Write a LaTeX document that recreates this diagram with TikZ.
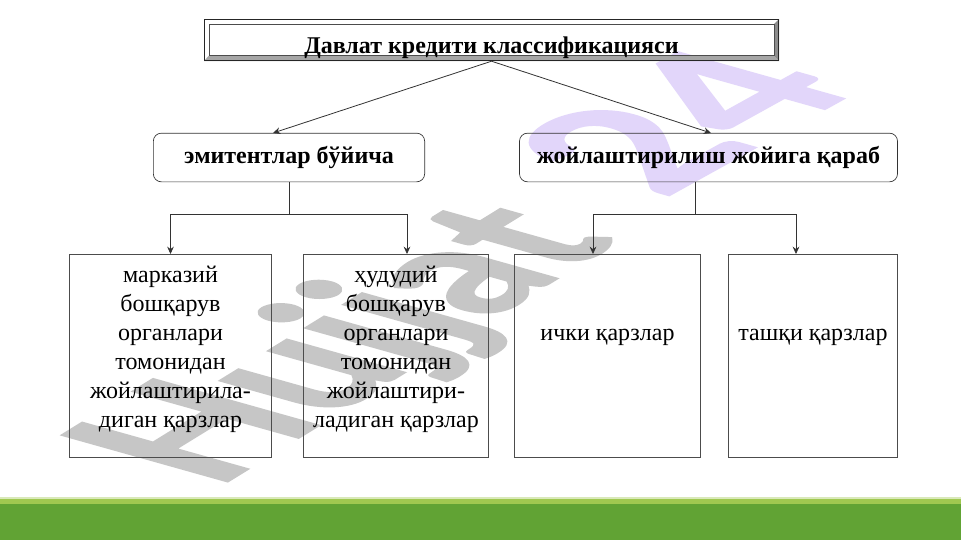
\documentclass[tikz,border=0pt]{standalone}
\usepackage{fontspec}
\setmainfont{Liberation Serif}
\newfontfamily\wmfont[BoldFeatures={FakeBold=1.5}]{Lato}
\usetikzlibrary{arrows.meta}
\definecolor{wmgray}{RGB}{198,198,198}
\definecolor{wmviolet}{RGB}{226,214,250}
\definecolor{barlight}{RGB}{160,200,80}
\definecolor{bargreen}{RGB}{97,163,52}
\tikzset{
    leafbox/.style={rectangle,draw=black!70,line width=0.6pt,inner sep=0pt,minimum height=152.5pt},
    leaftext/.style={font=\fontsize{18}{21.7}\selectfont,align=center,inner sep=0pt},
    headbox/.style={rectangle,rounded corners=6pt,draw=black!80,line width=0.5pt,inner sep=0pt,minimum height=36.5pt,font=\fontsize{18}{21.7}\selectfont\bfseries},
    markbox/.style={transform shape,anchor=base west,font=\fontsize{100}{100}\selectfont\wmfont\bfseries,inner sep=0pt},
    link/.style={draw=black!80,line width=0.6pt},
    linkarrow/.style={link,-{Stealth[length=5.5pt,width=5pt]}}
}
\begin{document}
\begin{tikzpicture}[x=0.75pt,y=-0.75pt]
    \useasboundingbox (0,0) rectangle (961,540);
    % Background and bottom bar
    \fill[white] (0,0) rectangle (961,540);
    \fill[barlight!40] (0,497) rectangle (961,499);
    \fill[barlight] (0,499) rectangle (961,504);
    \fill[bargreen] (0,504) rectangle (961,540);

    % Watermark
    \node[markbox,cm={1.12,0.69,-1.71,0.48,(0,0)},text=wmgray] (markleft) at (215,489) {Hujjat};
    \node[markbox,cm={1.30,0.72,-1.71,0.48,(0,0)},text=wmviolet] (markright) at (662,199) {24};

    % Title box
    \fill[black!35] (204,61) -- (779,61) -- (774,55.5) -- (209,55.5) -- cycle;
    \fill[black!45] (779,19) -- (779,61) -- (774,55.5) -- (774,24) -- cycle;
    \node[rectangle,draw=black!85,line width=0.6pt,minimum width=431pt,minimum height=31.2pt,inner sep=0pt] (titleframe) at (491.5,40) {};
    \node[rectangle,draw=black!70,line width=0.4pt,minimum width=424pt,minimum height=23.6pt,inner sep=0pt] (titleinner) at (491.5,39.75) {};
    \node[font=\fontsize{18}{21.7}\selectfont\bfseries,inner sep=0pt] (title) at (491.5,48) {Давлат кредити классификацияси};

    % Second level
    \node[headbox,minimum width=203.5pt] (headleft) at (289,157.5) {эмитентлар бўйича};
    \node[headbox,minimum width=283.5pt] (headright) at (708.5,157.5) {жойлаштирилиш жойига қараб};

    % Third level
    \node[leafbox,minimum width=151.8pt] (leafa) at (170.5,356) {};
    \node[leafbox,minimum width=139pt] (leafb) at (396,356) {};
    \node[leafbox,minimum width=139.8pt] (leafc) at (607.5,356) {};
    \node[leafbox,minimum width=126.5pt] (leafd) at (813,356) {};

    \node[leaftext] (texta) at (170.5,349) {марказий\\бошқарув\\органлари\\томонидан\\жойлаштирила-\\диган қарзлар};
    \node[leaftext] (textb) at (396,349) {ҳудудий\\бошқарув\\органлари\\томонидан\\жойлаштири-\\ладиган қарзлар};
    \node[leaftext] (textc) at (607.5,337) {ички қарзлар};
    \node[leaftext] (textd) at (813,337) {ташқи қарзлар};

    % Connector ends
    \coordinate (tipleft) at (273,133);
    \coordinate (tipright) at (711,133);
    \coordinate (forkleft) at (289,214);
    \coordinate (forkright) at (695,214);
    \coordinate (downa) at (170.5,254);
    \coordinate (downb) at (407,254);
    \coordinate (downc) at (593,254);
    \coordinate (downd) at (796,254);
    \coordinate (startright) at (695,182);

    % Connectors
    \draw[linkarrow] (titleframe.south) -- (tipleft);
    \draw[linkarrow] (titleframe.south) -- (tipright);
    \draw[link] (headleft.south) -- (forkleft);
    \draw[link] (startright) -- (forkright);
    \draw[linkarrow] (forkleft) -| (downa);
    \draw[linkarrow] (forkleft) -| (downb);
    \draw[linkarrow] (forkright) -| (downc);
    \draw[linkarrow] (forkright) -| (downd);
\end{tikzpicture}
\end{document}
